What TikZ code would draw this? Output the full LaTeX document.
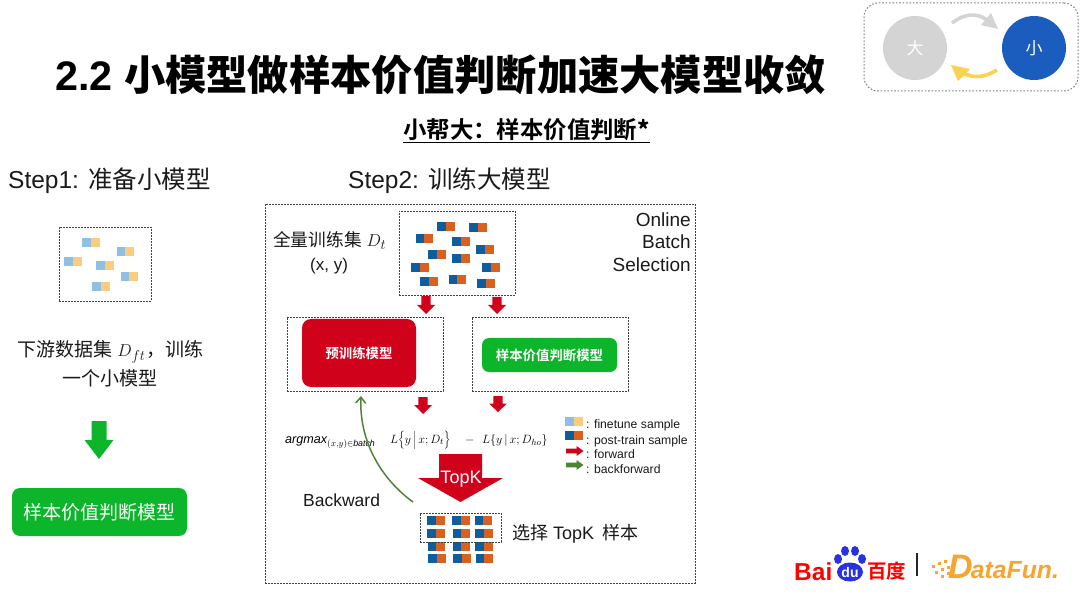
\documentclass[tikz,border=0pt]{standalone}
\usepackage{fontspec}
\usetikzlibrary{arrows.meta}
\setmainfont{Liberation Sans}
\newfontfamily\cjk{Noto Sans CJK SC}
\newfontfamily\cjkb{Noto Sans CJK SC Bold}
\definecolor{redA}{HTML}{D0021B}
\definecolor{greenA}{HTML}{0DB52B}
\definecolor{greenB}{HTML}{4F8436}
\definecolor{blueD}{HTML}{0F5C9E}
\definecolor{orangeD}{HTML}{D9601F}
\definecolor{blueL}{HTML}{8FBFE3}
\definecolor{orangeL}{HTML}{FBCB7E}
\definecolor{capt}{HTML}{1A1A1A}
\definecolor{bigblue}{HTML}{1A5DBF}
\definecolor{lgray}{HTML}{D4D4D4}
\definecolor{yel}{HTML}{FBD24E}
\definecolor{df}{HTML}{F6A52E}
\definecolor{baidu}{HTML}{2932E1}
\tikzset{
  dashbox/.style={draw=black!75,line width=0.8pt,dash pattern=on 1.8pt off 1.2pt,inner sep=0pt},
  lab/.style={anchor=base west,inner sep=0pt,text=capt},
  solid box/.style={rounded corners=#1,inner sep=0pt,text=white,align=center},
}
\newcommand{\fatdown}[7]{\fill[#1] (#2-#6,#3) -- (#2+#6,#3) -- (#2+#6,#4-#7) -- (#2+#5,#4-#7) -- (#2,#4) -- (#2-#5,#4-#7) -- (#2-#6,#4-#7) -- cycle;}
\newcommand{\fatright}[3]{\fill[#1] (#2,#3+2.4) -- (#2+10.5,#3+2.4) -- (#2+10.5,#3+5) -- (#2+17.5,#3) -- (#2+10.5,#3-5) -- (#2+10.5,#3-2.4) -- (#2,#3-2.4) -- cycle;}
\newcommand{\samp}[4]{\fill[#3] (#1,#2) rectangle ++(8.5,9); \fill[#4] (#1+8.5,#2) rectangle ++(9,9);}
\begin{document}
\begin{tikzpicture}[x=1pt,y=-1pt]
\useasboundingbox (0,0) rectangle (1080,596);
\fill[white] (0,0) rectangle (1080,596);

% title
\node[lab,text=black] (title) at (55,91) {\fontsize{41.3}{42}\selectfont\bfseries 2.2 {\cjkb 小模型做样本价值判断加速大模型收敛}};
\node[lab,text=black] (sub) at (403,139) {\fontsize{23.4}{25}\selectfont\underline{\cjkb 小帮大：样本价值判断\textbf{*}}};

% top right badge
\node[draw=black!50,line width=1pt,dash pattern=on 1.6pt off 1.8pt,rounded corners=14pt,minimum width=214pt,minimum height=88pt,inner sep=0pt] (badge) at (971,47) {};
\node[circle,fill=lgray,minimum size=64pt,inner sep=0pt,text=white] (da) at (915,48) {\fontsize{17}{17}\selectfont\cjk 大};
\node[circle,fill=bigblue,minimum size=64pt,inner sep=0pt,text=white] (xiao) at (1034,48) {\fontsize{17}{17}\selectfont\cjk 小};
\draw[lgray,line width=3.6pt] (952,23) .. controls (964,14) and (976,12) .. (987,20);
\fill[lgray] (998,29) -- (991,13) -- (981,25) -- cycle;
\draw[yel,line width=3.6pt] (997,70) .. controls (985,77) and (975,79) .. (963,73);
\fill[yel] (951,65) -- (970,69) -- (958,81) -- cycle;

% step 1
\node[lab] (step1) at (8,189) {\fontsize{24.5}{26}\selectfont Step1: {\cjk 准备小模型}};
\node[dashbox,minimum width=92pt,minimum height=74pt] (lbox) at (105,264) {};
\foreach \x/\y in {97/54,200/82,43/111,138/123,212/156,126/187}
  {\samp{\x/3+50}{\y/3+220}{blueL}{orangeL}}
\node[lab] (ds1) at (17,356) {\fontsize{19}{22}\selectfont{\cjk 下游数据集} $D_{ft}$\kern1pt{\cjk ，训练}};
\node[lab] (ds2) at (62,385) {\fontsize{19}{22}\selectfont\cjk 一个小模型};
\fatdown{greenA}{99}{421}{459}{14.5}{7.5}{19}
\node[solid box=8pt,fill=greenA,minimum width=175pt,minimum height=48pt] (m1) at (99.5,512) {\fontsize{19}{22}\selectfont\cjk 样本价值判断模型};

% step 2
\node[lab] (step2) at (348,189) {\fontsize{24.5}{26}\selectfont Step2: {\cjk 训练大模型}};
\node[dashbox,minimum width=430pt,minimum height=379pt] (outer) at (480,393.5) {};
\node[anchor=base east,inner sep=0pt,text=capt] (on1) at (691,226.5) {\fontsize{19}{20}\selectfont Online};
\node[anchor=base east,inner sep=0pt,text=capt] (on2) at (691,249) {\fontsize{19}{20}\selectfont Batch};
\node[anchor=base east,inner sep=0pt,text=capt] (on3) at (691,271.5) {\fontsize{19}{20}\selectfont Selection};

\node[lab] (full) at (273,247) {\fontsize{17.7}{20}\selectfont{\cjk 全量训练集} \fontsize{19}{20}\selectfont$D_t$};
\node[lab] (xy) at (310,271) {\fontsize{17}{20}\selectfont (x, y)};
\node[dashbox,minimum width=116pt,minimum height=84pt] (topbox) at (457,253) {};
\foreach \x/\y in {517/66,613/70,452/102,562/110,634/136,490/151,562/162,439/188,652/190,465/231,551/224,637/237}
  {\samp{\x/3+265}{\y/3+200}{blueD}{orangeD}}

\fatdown{redA}{426}{296}{314}{9}{4.7}{9}
\fatdown{redA}{497}{297}{314}{9}{4.7}{9}

\node[dashbox,minimum width=156pt,minimum height=74pt] (lmid) at (365,354) {};
\node[dashbox,minimum width=156pt,minimum height=74pt] (rmid) at (550,354) {};
\node[solid box=9pt,fill=redA,minimum width=114pt,minimum height=68pt] (pre) at (359,353) {\fontsize{13.4}{15}\selectfont\cjkb 预训练模型};
\node[solid box=7pt,fill=greenA,minimum width=135pt,minimum height=34pt] (m2) at (549.5,355) {\fontsize{13.4}{15}\selectfont\cjkb 样本价值判断模型};

\fatdown{redA}{423}{397}{414}{9}{4.7}{9}
\fatdown{redA}{498}{396}{412}{9}{4.7}{8.5}

% formula
\node[lab,text=black] (argm) at (285,443) {\fontsize{12.6}{14}\selectfont $\mathit{argmax}_{(x,y)\in \mathit{batch}}$};
\node[lab,text=black] (f1) at (390,443) {\fontsize{13.2}{15}\selectfont $L\Bigl\{y\,\Big|\,x;D_t\Bigr\}$};
\node[lab,text=black] (minus) at (465,443) {\fontsize{12}{14}\selectfont $-$};
\node[lab,text=black] (f2) at (482,443) {\fontsize{13}{15}\selectfont $L\bigl\{y\,\big|\,x;D_{ho}\bigr\}$};

% legend
\samp{565}{416.5}{blueL}{orangeL}
\samp{565}{431}{blueD}{orangeD}
\node[lab] (l1) at (586,428.5) {\fontsize{12.2}{13}\selectfont : finetune sample};
\node[lab] (l2) at (586,444) {\fontsize{12.2}{13}\selectfont : post-train sample};
\node[lab] (l3) at (586,458.5) {\fontsize{12.2}{13}\selectfont : forward};
\node[lab] (l4) at (586,473) {\fontsize{12.2}{13}\selectfont : backforward};
\fatright{redA}{566}{451}
\fatright{greenB}{566}{465}

% TopK arrow
\fatdown{redA}{460.5}{454}{502}{42.5}{21.5}{24}
\node[inner sep=0pt,text=white] (topk) at (461,479.5) {\fontsize{18}{19}\selectfont TopK};

% backward curve
\coordinate (bstart) at (413,502);
\coordinate (bend) at (361,396);
\draw[greenB,line width=1.5pt,-{Straight Barb[length=6pt,width=10pt]}] (bstart) .. controls (380,478) and (359,440) .. (bend);
\node[lab] (bw) at (303,506) {\fontsize{17.5}{19}\selectfont Backward};

% bottom samples
\foreach \x/\y in {262/198,336/198,404/199,262/236,338/237,405/237,263/276,338/276,406/276,264/312,339/312,407/313}
  {\samp{\x/3+340}{\y/3+450}{blueD}{orangeD}}
\node[dashbox,minimum width=81pt,minimum height=29pt] (sel) at (460.5,527.5) {};
\node[lab] (selt) at (512,539) {\fontsize{18}{20}\selectfont{\cjk 选择} TopK\kern8pt{\cjk 样本}};

% logos
\node[lab,text=red] (bai) at (794,580) {\fontsize{24.5}{25}\selectfont\bfseries Bai};
\fill[baidu] (838,559) ellipse (4pt and 5pt) (845,551) ellipse (4pt and 5pt) (855,551) ellipse (4pt and 5pt) (862,559) ellipse (4pt and 5pt);
\fill[baidu] (850,572) ellipse (13pt and 9.5pt);
\node[inner sep=0pt,text=white] (du) at (850,572.5) {\fontsize{14}{15}\selectfont\bfseries du};
\node[lab,text=red] (bd) at (867,578) {\fontsize{19.5}{20}\selectfont\cjkb 百度};
\draw[black!85,line width=1.4pt] (917,553) -- (917,576);
\foreach \x/\y in {944/560,938/562,932/565,947/566,941/568,935/571,947/572,941/575}
  {\fill[df] (\x,\y) rectangle ++(2.6,2.6);}
\node[lab,text=df] (dfun) at (948,578) {\bfseries\itshape\fontsize{34}{34}\selectfont D\kern-2pt\fontsize{24.8}{25}\selectfont ataFun.};
\end{tikzpicture}
\end{document}
